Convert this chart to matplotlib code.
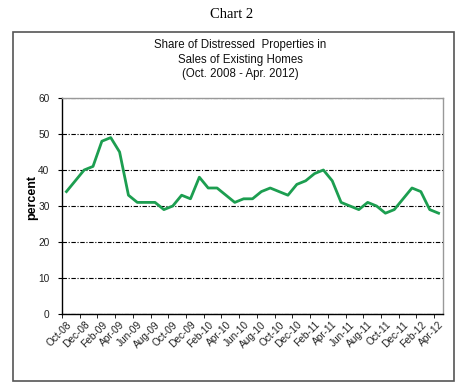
import numpy as np
import matplotlib.pyplot as plt
from matplotlib.patches import Rectangle

months = ['Oct-08', 'Nov-08', 'Dec-08', 'Jan-09', 'Feb-09', 'Mar-09', 'Apr-09', 'May-09',
          'Jun-09', 'Jul-09', 'Aug-09', 'Sep-09', 'Oct-09', 'Nov-09', 'Dec-09', 'Jan-10',
          'Feb-10', 'Mar-10', 'Apr-10', 'May-10', 'Jun-10', 'Jul-10', 'Aug-10', 'Sep-10',
          'Oct-10', 'Nov-10', 'Dec-10', 'Jan-11', 'Feb-11', 'Mar-11', 'Apr-11', 'May-11',
          'Jun-11', 'Jul-11', 'Aug-11', 'Sep-11', 'Oct-11', 'Nov-11', 'Dec-11', 'Jan-12',
          'Feb-12', 'Mar-12', 'Apr-12']
share = [34, 37, 40, 41, 48, 49, 45, 33, 31, 31, 31, 29, 30, 33, 32, 38,
         35, 35, 33, 31, 32, 32, 34, 35, 34, 33, 36, 37, 39, 40, 37, 31,
         30, 29, 31, 30, 28, 29, 32, 35, 34, 29, 28]

plt.rcParams['font.family'] = ['Liberation Sans', 'DejaVu Sans']

fig = plt.figure(figsize=(4.65, 3.87), dpi=100)
fig.patches.append(Rectangle((12.7 / 465, 6.3 / 387), 441.3 / 465, 349 / 387,
                             transform=fig.transFigure, fill=False,
                             edgecolor='#555555', linewidth=1.2))

fig.text(232 / 465, 1 - 15 / 387, 'Chart 2', ha='center', va='center',
         fontsize=10.5, family='Liberation Serif')
fig.text(240 / 465, 1 - 59.5 / 387,
         'Share of Distressed  Properties in\nSales of Existing Homes\n(Oct. 2008 - Apr. 2012)',
         ha='center', va='center', fontsize=8.3, linespacing=1.3, color='#111111')

ax = fig.add_axes([62 / 465, 73 / 387, 381 / 465, 216 / 387])
x = np.arange(len(months))
ax.plot(x, share, color='#1c9e50', linewidth=2)

ax.set_xlim(-0.5, len(months) - 0.5)
ax.set_ylim(0, 60)
ax.set_yticks(range(0, 61, 10))
ax.yaxis.grid(True, color='black', linestyle=(0, (4, 1.5, 1, 1.5)), linewidth=0.8)
ax.set_axisbelow(True)

ax.set_xticks(np.arange(-0.5, len(months), 2), minor=True)
ax.set_xticks(x[::2])
ax.set_xticklabels(months[::2], rotation=45, ha='right', rotation_mode='anchor')
ax.tick_params(axis='x', which='major', length=0, labelsize=7.3, pad=4, labelcolor='#222222')
ax.tick_params(axis='x', which='minor', length=3, direction='out')
ax.tick_params(axis='y', labelsize=7.3, length=3, pad=6, labelcolor='#222222')

fig.text(32 / 465, 1 - 197 / 387, 'percent', rotation=90, ha='center', va='center',
         fontsize=9, fontweight='bold')
ax.spines['top'].set_color('#999999')
ax.spines['right'].set_color('#999999')
for s in ax.spines.values():
    s.set_linewidth(1)

fig.savefig('out.png', dpi=100)
